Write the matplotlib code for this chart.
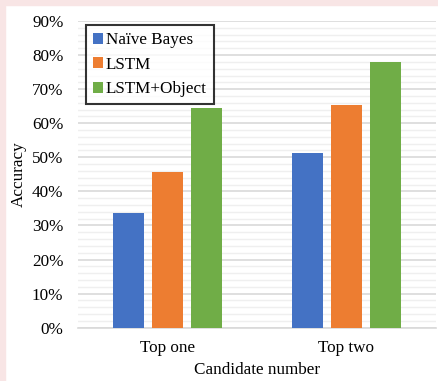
import numpy as np
import matplotlib
matplotlib.use("Agg")
import matplotlib.pyplot as plt
from matplotlib.ticker import MultipleLocator, PercentFormatter

# accuracy per method for each candidate count
categories = ["Top one", "Top two"]
methods = ["Naïve Bayes", "LSTM", "LSTM+Object"]
naive_bayes = [33.8, 51.3]
lstm = [45.8, 65.3]
lstm_object = [64.5, 78.1]
colors = ["#4472c4", "#ed7d31", "#70ad47"]

plt.rcParams["font.family"] = ["Liberation Serif", "DejaVu Serif"]
plt.rcParams["font.size"] = 12.3

W, H = 439, 381
fig = plt.figure(figsize=(W / 100, H / 100), dpi=100)
fig.patch.set_facecolor("white")

# pink border along the top and left edges
fig.patches.append(plt.Rectangle((0, 0), 5 / W, 1, transform=fig.transFigure,
                                 color="#f8e5e5", zorder=-10))
fig.patches.append(plt.Rectangle((0, 1 - 5 / H), 1, 5 / H, transform=fig.transFigure,
                                 color="#f8e5e5", zorder=-10))

ax = fig.add_axes([78 / W, 1 - 327.7 / H, (436 - 78) / W, (327.7 - 21) / H])

x = np.arange(len(categories))
width = 0.173
offset = 0.22
for i, (vals, name) in enumerate(zip([naive_bayes, lstm, lstm_object], methods)):
    ax.bar(x + (i - 1) * offset, vals, width, color=colors[i], label=name, zorder=3)

ax.set_xlim(-0.5, 1.5)
ax.set_ylim(0, 90)
ax.yaxis.set_major_locator(MultipleLocator(10))
ax.yaxis.set_minor_locator(MultipleLocator(2))
ax.yaxis.set_major_formatter(PercentFormatter(decimals=0))
ax.grid(which="major", axis="y", color="#d9d9d9", linewidth=1.2, zorder=0)
ax.grid(which="minor", axis="y", color="#efefef", linewidth=1.0, zorder=0)
ax.set_xticks(x)
ax.set_xticklabels(categories)
ax.tick_params(which="both", length=0)
ax.tick_params(axis="y", pad=10.5)
ax.tick_params(axis="x", pad=9)
for s in ["top", "right", "left"]:
    ax.spines[s].set_visible(False)
ax.spines["bottom"].set_color("#d9d9d9")
ax.spines["bottom"].set_linewidth(1.2)

ax.set_xlabel("Candidate number")
ax.set_ylabel("Accuracy")
ax.yaxis.set_label_coords(-0.142, 0.5)
ax.xaxis.set_label_coords(0.5, -0.112)

leg = ax.legend(loc="upper left", bbox_to_anchor=(85.7 / W, 1 - 25 / H),
                bbox_transform=fig.transFigure, frameon=True, fancybox=False,
                edgecolor="black", handlelength=0.62, handleheight=0.62,
                handletextpad=0.15, labelspacing=0.5, borderpad=0.42,
                borderaxespad=0)
leg.get_frame().set_linewidth(1.5)

fig.savefig("out.png", dpi=100)
